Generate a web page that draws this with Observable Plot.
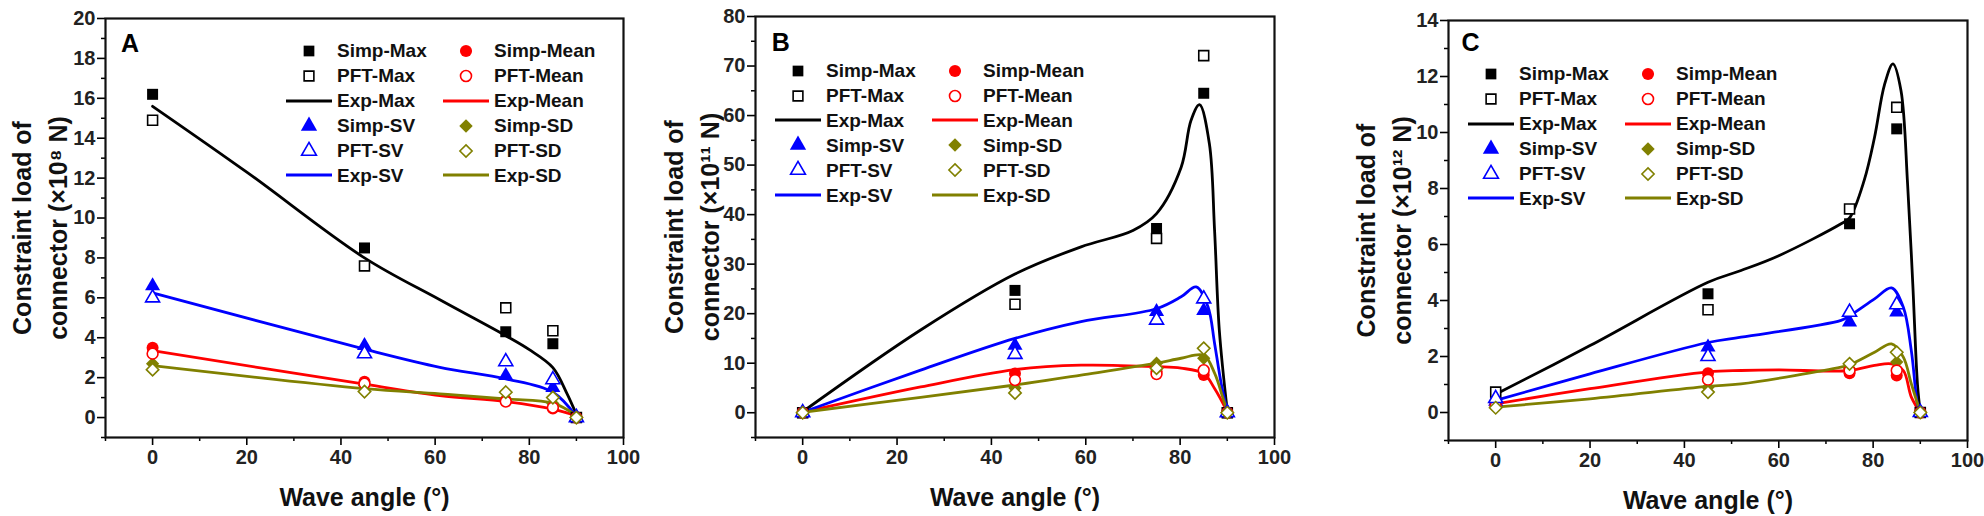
<!DOCTYPE html>
<html><head><meta charset="utf-8">
<script src="https://cdn.jsdelivr.net/npm/d3@7"></script>
<script src="https://cdn.jsdelivr.net/npm/@observablehq/plot@0.6"></script>
<style>
body{margin:0;background:#fff;font-family:"Liberation Sans",Arial,sans-serif;}
#wrap{position:relative;width:1984px;height:516px;overflow:hidden;background:#fff}
.panel{position:absolute;top:0}
.legend{position:absolute;display:grid;grid-template-columns:157px 157px;font-weight:bold;font-size:19px;color:#111;line-height:1}
.item{display:flex;align-items:center;height:24.9px;white-space:nowrap}
.item svg{flex:none;margin-right:5px}
</style></head>
<body><div id="wrap"></div>
<script>
// ---------- shared categories ----------
const angles = [0, 45, 75, 85, 90];
const xTicksMajor = [0, 20, 40, 60, 80, 100];
const xTicksMinor = [-10, 10, 30, 50, 70, 90];

// ---------- Panel A (×10^8 N) ----------
const A_simpMax  = [16.2, 8.5, 4.3, 3.7, 0];
const A_pftMax   = [14.9, 7.6, 5.5, 4.35, 0];
const A_simpMean = [3.5, 1.8, 0.85, 0.45, 0];
const A_pftMean  = [3.2, 1.7, 0.8, 0.5, 0];
const A_simpSV   = [6.6, 3.6, 2.1, 1.5, 0];
const A_pftSV    = [6.0, 3.2, 2.8, 1.9, 0];
const A_simpSD   = [2.7, 1.6, 0.93, 0.7, 0];
const A_pftSD    = [2.4, 1.3, 1.27, 1.0, 0];
const A_expMaxX  = [0, 20, 45, 61, 75, 80, 85, 88, 90];
const A_expMax   = [15.6, 12.3, 8.0, 5.9, 4.1, 3.4, 2.5, 1.2, 0.15];
const A_expMeanX = [0, 45, 61, 75, 85, 90];
const A_expMean  = [3.35, 1.67, 1.1, 0.8, 0.42, 0.08];
const A_expSVX   = [0, 45, 61, 75, 85, 90];
const A_expSV    = [6.25, 3.43, 2.52, 1.94, 1.27, 0.05];
const A_expSDX   = [0, 45, 61, 75, 85, 90];
const A_expSD    = [2.6, 1.45, 1.19, 0.93, 0.72, 0.1];
const A_yMajor = [0, 2, 4, 6, 8, 10, 12, 14, 16, 18, 20];
const A_yMinor = [-1, 1, 3, 5, 7, 9, 11, 13, 15, 17, 19];

// ---------- Panel B (×10^11 N) ----------
const B_simpMax  = [0, 24.7, 37.2, 64.5, 0];
const B_pftMax   = [0, 21.9, 35.2, 72.1, 0];
const B_simpMean = [0, 7.9, 8.4, 7.6, 0];
const B_pftMean  = [0, 6.6, 7.8, 8.6, 0];
const B_simpSV   = [0, 13.6, 20.4, 20.6, 0];
const B_pftSV    = [0, 11.8, 18.7, 23.0, 0];
const B_simpSD   = [0, 5.0, 10.0, 11.0, 0];
const B_pftSD    = [0, 4.0, 9.0, 13.0, 0];
const B_expMaxX  = [0, 25, 45, 59, 70, 75, 80.2, 82.3, 84.1, 86.2, 87.3, 88.3, 90];
const B_expMax   = [0.2, 16.7, 28, 33.5, 36.8, 40.2, 49.5, 59, 62.2, 54.3, 36.8, 16.7, 0.3];
const B_expMeanX = [0, 25, 45, 59, 75, 80.2, 85, 87.3, 90];
const B_expMean  = [0.1, 5.2, 8.7, 9.6, 9.3, 9.0, 7.9, 4.9, 0.2];
const B_expSVX   = [0, 25, 45, 59, 75, 80.2, 83.4, 85.9, 87.3, 88.7, 90];
const B_expSV    = [0.1, 8.6, 15, 18.4, 21, 23.4, 25.4, 21.4, 14, 5.9, 0.3];
const B_expSDX   = [0, 25, 45, 59, 75, 80.2, 85, 87.3, 89, 90];
const B_expSD    = [0.1, 3.1, 5.6, 7.6, 10, 11, 11.6, 8, 3.2, 0.2];
const B_yMajor = [0, 10, 20, 30, 40, 50, 60, 70, 80];
const B_yMinor = [-5, 5, 15, 25, 35, 45, 55, 65, 75];

// ---------- Panel C (×10^12 N) ----------
const C_simpMax  = [0.65, 4.24, 6.74, 10.13, 0];
const C_pftMax   = [0.73, 3.67, 7.27, 10.9, 0];
const C_simpMean = [0.3, 1.4, 1.4, 1.32, 0];
const C_pftMean  = [0.25, 1.17, 1.5, 1.5, 0];
const C_simpSV   = [0.4, 2.33, 3.23, 3.58, 0];
const C_pftSV    = [0.5, 2.0, 3.58, 3.85, 0];
const C_simpSD   = [0.2, 0.9, 1.56, 1.8, 0];
const C_pftSD    = [0.17, 0.73, 1.74, 2.15, 0];
const C_expMaxX  = [0, 20, 45, 52, 60, 73.2, 75, 78.1, 80.3, 82.4, 84.2, 85.9, 87.3, 88.4, 89.4, 90];
const C_expMax   = [0.65, 2.39, 4.65, 5.07, 5.6, 6.74, 6.95, 8.29, 9.83, 11.7, 12.45, 11.5, 8.17, 4.6, 1.0, 0];
const C_expMeanX = [0, 20, 45, 52, 60, 75, 80.3, 83.9, 86.4, 88.1, 90];
const C_expMean  = [0.31, 0.85, 1.45, 1.5, 1.52, 1.5, 1.68, 1.74, 1.5, 0.55, 0];
const C_expSVX   = [0, 20, 45, 52, 73.2, 75, 80.3, 83.9, 86.4, 88.1, 89.4, 90];
const C_expSV    = [0.43, 1.38, 2.5, 2.69, 3.29, 3.45, 4.06, 4.45, 3.76, 2.2, 0.3, 0];
const C_expSDX   = [0, 20, 45, 52, 73.2, 75, 80.3, 83.9, 86.4, 88.1, 90];
const C_expSD    = [0.19, 0.49, 0.93, 1.02, 1.62, 1.7, 2.15, 2.45, 1.98, 1.02, 0];
const C_yMajor = [0, 2, 4, 6, 8, 10, 12, 14];
const C_yMinor = [-1, 1, 3, 5, 7, 9, 11, 13];

// ---------- styles ----------
const COL = {max: "#000000", mean: "#ff0000", sv: "#0000ff", sd: "#808000"};
const FONT = "'Liberation Sans', Arial, sans-serif";

function tbl(xs, ys) { return xs.map((x, i) => ({x, y: ys[i]})); }

function panel(cfg) {
  const s = cfg.series;
  const lineOpts = (c) => ({x: "x", y: "y", stroke: c, strokeWidth: 2.8, curve: "catmull-rom"});
  const marks = [
    Plot.line(tbl(s.expMaxX, s.expMax), lineOpts(COL.max)),
    Plot.line(tbl(s.expMeanX, s.expMean), lineOpts(COL.mean)),
    Plot.line(tbl(s.expSVX, s.expSV), lineOpts(COL.sv)),
    Plot.line(tbl(s.expSDX, s.expSD), lineOpts(COL.sd)),
    Plot.dot(tbl(angles, s.simpMax), {x: "x", y: "y", symbol: "square", r: 6.2, fill: COL.max, stroke: "none"}),
    Plot.dot(tbl(angles, s.simpMean), {x: "x", y: "y", symbol: "circle", r: 6, fill: COL.mean, stroke: "none"}),
    Plot.dot(tbl(angles, s.simpSV), {x: "x", y: "y", symbol: "triangle", r: 5.6, fill: COL.sv, stroke: "none"}),
    Plot.dot(tbl(angles, s.simpSD), {x: "x", y: "y", symbol: "diamond2", r: 6, fill: COL.sd, stroke: "none"}),
    Plot.dot(tbl(angles, s.pftMax), {x: "x", y: "y", symbol: "square", r: 5.6, fill: "white", stroke: COL.max, strokeWidth: 1.6}),
    Plot.dot(tbl(angles, s.pftMean), {x: "x", y: "y", symbol: "circle", r: 5.4, fill: "white", stroke: COL.mean, strokeWidth: 1.6}),
    Plot.dot(tbl(angles, s.pftSV), {x: "x", y: "y", symbol: "triangle", r: 5.2, fill: "white", stroke: COL.sv, strokeWidth: 1.6}),
    Plot.dot(tbl(angles, s.pftSD), {x: "x", y: "y", symbol: "diamond2", r: 5.6, fill: "white", stroke: COL.sd, strokeWidth: 1.6}),
    Plot.axisY({ticks: cfg.yMinor, tickSize: 4, text: null, label: null, strokeWidth: 1.5}),
    Plot.axisY({ticks: cfg.yMajor, tickSize: 8, tickPadding: 2, label: null, strokeWidth: 1.6,
                fontSize: 20, fontWeight: "bold", fill: "#222"}),
    Plot.axisX({ticks: xTicksMinor, tickSize: 4, text: null, label: null, strokeWidth: 1.5}),
    Plot.axisX({ticks: xTicksMajor, tickSize: 8, tickPadding: 4, label: null, strokeWidth: 1.6,
                fontSize: 20, fontWeight: "bold", fill: "#222"}),
    Plot.frame({stroke: "#111", strokeWidth: 2.2}),
    Plot.text([cfg.ylabel], {text: d => d, frameAnchor: "left", dx: cfg.ylDx, rotate: -90,
                textAnchor: "middle", lineAnchor: "middle", lineHeight: 1.45,
                fontSize: 25, fontWeight: "bold", fill: "#111"}),
    Plot.text(["Wave angle (°)"], {text: d => d, frameAnchor: "bottom", dy: 60,
                textAnchor: "middle", lineAnchor: "middle", fontSize: 25, fontWeight: "bold", fill: "#111"}),
    Plot.text([cfg.letter], {text: d => d, frameAnchor: "top-left", dx: cfg.letterDx, dy: cfg.letterDy,
                textAnchor: "middle", lineAnchor: "middle", fontSize: 25, fontWeight: "bold", fill: "#000"})
  ];
  return Plot.plot({
    width: cfg.width, height: 516,
    marginLeft: cfg.ml, marginRight: cfg.mr, marginTop: cfg.mt, marginBottom: cfg.mb,
    x: {domain: [-10, 100]},
    y: {domain: cfg.yDomain},
    style: {fontFamily: FONT, background: "transparent", overflow: "visible"},
    marks
  });
}

const legendItems = [
  {label: "Simp-Max", kind: "dot", sym: d3.symbolSquare, fill: COL.max, stroke: "none"},
  {label: "Simp-Mean", kind: "dot", sym: d3.symbolCircle, fill: COL.mean, stroke: "none"},
  {label: "PFT-Max", kind: "dot", sym: d3.symbolSquare, fill: "white", stroke: COL.max},
  {label: "PFT-Mean", kind: "dot", sym: d3.symbolCircle, fill: "white", stroke: COL.mean},
  {label: "Exp-Max", kind: "line", color: COL.max},
  {label: "Exp-Mean", kind: "line", color: COL.mean},
  {label: "Simp-SV", kind: "dot", sym: d3.symbolTriangle, fill: COL.sv, stroke: "none"},
  {label: "Simp-SD", kind: "dot", sym: d3.symbolDiamond2, fill: COL.sd, stroke: "none"},
  {label: "PFT-SV", kind: "dot", sym: d3.symbolTriangle, fill: "white", stroke: COL.sv},
  {label: "PFT-SD", kind: "dot", sym: d3.symbolDiamond2, fill: "white", stroke: COL.sd},
  {label: "Exp-SV", kind: "line", color: COL.sv},
  {label: "Exp-SD", kind: "line", color: COL.sd}
];

function legend(left, firstRowY) {
  const div = document.createElement("div");
  div.className = "legend";
  div.style.left = left + "px";
  div.style.top = (firstRowY - 12.45) + "px";
  for (const it of legendItems) {
    const item = document.createElement("div");
    item.className = "item";
    const svg = d3.create("svg").attr("width", 46).attr("height", 20);
    if (it.kind === "line") {
      svg.append("line").attr("x1", 0).attr("x2", 46).attr("y1", 10).attr("y2", 10)
        .attr("stroke", it.color).attr("stroke-width", 3);
    } else {
      const filled = it.stroke === "none";
      const size = filled ? 115 : 95;
      svg.append("path").attr("transform", "translate(23,10)")
        .attr("d", d3.symbol(it.sym, size)())
        .attr("fill", it.fill).attr("stroke", it.stroke).attr("stroke-width", 1.6);
    }
    item.appendChild(svg.node());
    const span = document.createElement("span");
    span.textContent = it.label;
    item.appendChild(span);
    div.appendChild(item);
  }
  return div;
}

const wrap = document.getElementById("wrap");
const panels = [
  {left: 0, width: 661, ml: 105, mr: 38, mt: 18, mb: 79, yDomain: [-1, 20], yMajor: A_yMajor, yMinor: A_yMinor,
   ylabel: "Constraint load of\nconnector (×10⁸ N)", ylDx: -68, letter: "A", letterDx: 24.5, letterDy: 25.5,
   legendLeft: 286, legendY: 51,
   series: {simpMax: A_simpMax, pftMax: A_pftMax, simpMean: A_simpMean, pftMean: A_pftMean,
            simpSV: A_simpSV, pftSV: A_pftSV, simpSD: A_simpSD, pftSD: A_pftSD,
            expMaxX: A_expMaxX, expMax: A_expMax, expMeanX: A_expMeanX, expMean: A_expMean,
            expSVX: A_expSVX, expSV: A_expSV, expSDX: A_expSDX, expSD: A_expSD}},
  {left: 661, width: 661, ml: 94, mr: 48, mt: 16, mb: 79, yDomain: [-5, 80], yMajor: B_yMajor, yMinor: B_yMinor,
   ylabel: "Constraint load of\nconnector (×10¹¹ N)", ylDx: -66, letter: "B", letterDx: 25.3, letterDy: 26,
   legendLeft: 775, legendY: 70.7,
   series: {simpMax: B_simpMax, pftMax: B_pftMax, simpMean: B_simpMean, pftMean: B_pftMean,
            simpSV: B_simpSV, pftSV: B_pftSV, simpSD: B_simpSD, pftSD: B_pftSD,
            expMaxX: B_expMaxX, expMax: B_expMax, expMeanX: B_expMeanX, expMean: B_expMean,
            expSVX: B_expSVX, expSV: B_expSV, expSDX: B_expSDX, expSD: B_expSD}},
  {left: 1322, width: 662, ml: 126, mr: 17, mt: 20, mb: 76, yDomain: [-1, 14], yMajor: C_yMajor, yMinor: C_yMinor,
   ylabel: "Constraint load of\nconnector (×10¹² N)", ylDx: -67, letter: "C", letterDx: 22, letterDy: 22,
   legendLeft: 1468, legendY: 74,
   series: {simpMax: C_simpMax, pftMax: C_pftMax, simpMean: C_simpMean, pftMean: C_pftMean,
            simpSV: C_simpSV, pftSV: C_pftSV, simpSD: C_simpSD, pftSD: C_pftSD,
            expMaxX: C_expMaxX, expMax: C_expMax, expMeanX: C_expMeanX, expMean: C_expMean,
            expSVX: C_expSVX, expSV: C_expSV, expSDX: C_expSDX, expSD: C_expSD}}
];

for (const p of panels) {
  const holder = document.createElement("div");
  holder.className = "panel";
  holder.style.left = p.left + "px";
  holder.appendChild(panel(p));
  wrap.appendChild(holder);
  wrap.appendChild(legend(p.legendLeft, p.legendY));
}
</script>
</body></html>
